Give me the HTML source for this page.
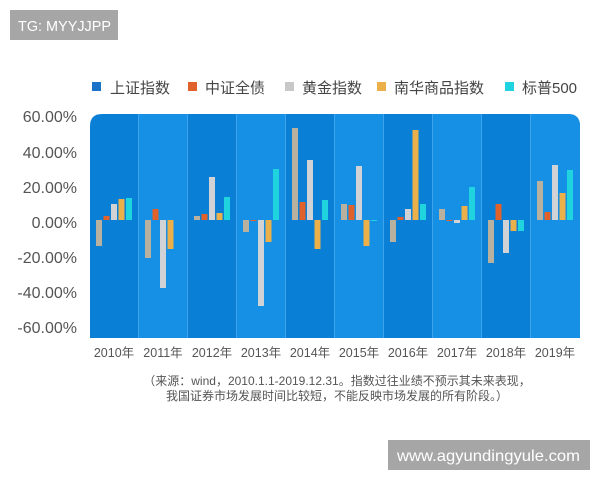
<!DOCTYPE html>
<html><head><meta charset="utf-8"><style>
body{margin:0;width:600px;height:480px;background:#fff;overflow:hidden;font-family:"Liberation Sans","Noto Sans CJK SC",sans-serif}
</style></head><body>
<svg width="600" height="480" xmlns="http://www.w3.org/2000/svg" font-family="Liberation Sans, Noto Sans CJK SC, sans-serif">
<rect x="10" y="10" width="108" height="30" fill="#a6a6a6"/>
<text x="18" y="31" font-size="15" fill="#fff" textLength="93" lengthAdjust="spacingAndGlyphs">TG: MYYJJPP</text>
<g font-size="15" fill="#444">
<rect x="92" y="82" width="9" height="9" fill="#1a73c9"/><text x="110" y="93">上证指数</text>
<rect x="188" y="82" width="9" height="9" fill="#e0622a"/><text x="205" y="93">中证全债</text>
<rect x="285" y="82" width="9" height="9" fill="#c8c8c8"/><text x="302" y="93">黄金指数</text>
<rect x="377" y="82" width="9" height="9" fill="#ebb04a"/><text x="394" y="93">南华商品指数</text>
<rect x="505" y="82" width="9" height="9" fill="#1fd4de"/><text x="522" y="93">标普500</text>
</g>
<g font-size="16" fill="#555" text-anchor="end">
<text x="77" y="122">60.00%</text><text x="77" y="158">40.00%</text><text x="77" y="193">20.00%</text>
<text x="77" y="228">0.00%</text><text x="77" y="263">-20.00%</text><text x="77" y="298">-40.00%</text><text x="77" y="333">-60.00%</text>
</g>
<defs><clipPath id="cp"><path d="M90,338 V126 Q90,114 102,114 H568 Q580,114 580,126 V338 Z"/></clipPath></defs>
<g clip-path="url(#cp)">
<rect x="90" y="114" width="490" height="224" fill="#0a7fd6"/>
<rect x="139" y="114" width="49" height="224" fill="#1590e4"/>
<rect x="237" y="114" width="49" height="224" fill="#1590e4"/>
<rect x="335" y="114" width="49" height="224" fill="#1590e4"/>
<rect x="433" y="114" width="49" height="224" fill="#1590e4"/>
<rect x="531" y="114" width="49" height="224" fill="#1590e4"/>
<g stroke="#3ea3ea" stroke-width="1">
<line x1="138.5" y1="114" x2="138.5" y2="338"/><line x1="187.5" y1="114" x2="187.5" y2="338"/><line x1="236.5" y1="114" x2="236.5" y2="338"/><line x1="285.5" y1="114" x2="285.5" y2="338"/><line x1="334.5" y1="114" x2="334.5" y2="338"/><line x1="383.5" y1="114" x2="383.5" y2="338"/><line x1="432.5" y1="114" x2="432.5" y2="338"/><line x1="481.5" y1="114" x2="481.5" y2="338"/><line x1="530.5" y1="114" x2="530.5" y2="338"/>
</g>
<g fill="#b9b1a0">
<rect x="96" y="220" width="6" height="26"/><rect x="145" y="220" width="6" height="38"/><rect x="194" y="216" width="6" height="4"/><rect x="243" y="220" width="6" height="12"/><rect x="292" y="128" width="6" height="92"/><rect x="341" y="204" width="6" height="16"/><rect x="390" y="220" width="6" height="22"/><rect x="439" y="209" width="6" height="11"/><rect x="488" y="220" width="6" height="43"/><rect x="537" y="181" width="6" height="39"/>
</g>
<g fill="#e0622a">
<rect x="103.5" y="216" width="6" height="4"/><rect x="152.5" y="209" width="6" height="11"/><rect x="201.5" y="214" width="6" height="6"/><rect x="250.5" y="220" width="6" height="1"/><rect x="299.5" y="202" width="6" height="18"/><rect x="348.5" y="205" width="6" height="15"/><rect x="397.5" y="217" width="6" height="3"/><rect x="446.5" y="220" width="6" height="1"/><rect x="495.5" y="204" width="6" height="16"/><rect x="544.5" y="212" width="6" height="8"/>
</g>
<g fill="#d0d2d6">
<rect x="111" y="204" width="6" height="16"/><rect x="160" y="220" width="6" height="68"/><rect x="209" y="177" width="6" height="43"/><rect x="258" y="220" width="6" height="86"/><rect x="307" y="160" width="6" height="60"/><rect x="356" y="166" width="6" height="54"/><rect x="405" y="209" width="6" height="11"/><rect x="454" y="220" width="6" height="3"/><rect x="503" y="220" width="6" height="33"/><rect x="552" y="165" width="6" height="55"/>
</g>
<g fill="#ebb04a">
<rect x="118.5" y="199" width="6" height="21"/><rect x="167.5" y="220" width="6" height="29"/><rect x="216.5" y="213" width="6" height="7"/><rect x="265.5" y="220" width="6" height="22"/><rect x="314.5" y="220" width="6" height="29"/><rect x="363.5" y="220" width="6" height="26"/><rect x="412.5" y="130" width="6" height="90"/><rect x="461.5" y="206" width="6" height="14"/><rect x="510.5" y="220" width="6" height="11"/><rect x="559.5" y="193" width="6" height="27"/>
</g>
<g fill="#1fd4de">
<rect x="126" y="198" width="6" height="22"/><rect x="224" y="197" width="6" height="23"/><rect x="273" y="169" width="6" height="51"/><rect x="322" y="200" width="6" height="20"/><rect x="371" y="220" width="6" height="1"/><rect x="420" y="204" width="6" height="16"/><rect x="469" y="187" width="6" height="33"/><rect x="518" y="220" width="6" height="11"/><rect x="567" y="170" width="6" height="50"/>
</g>
</g>
<g font-size="12.5" fill="#555" text-anchor="middle">
<text x="114" y="357">2010年</text><text x="163" y="357">2011年</text><text x="212" y="357">2012年</text><text x="261" y="357">2013年</text><text x="310" y="357">2014年</text><text x="359" y="357">2015年</text><text x="408" y="357">2016年</text><text x="457" y="357">2017年</text><text x="506" y="357">2018年</text><text x="555" y="357">2019年</text>
</g>
<g font-size="12" fill="#555" text-anchor="middle">
<text x="337" y="385">（来源：wind，2010.1.1-2019.12.31。指数过往业绩不预示其未来表现，</text>
<text x="337" y="400">我国证券市场发展时间比较短，不能反映市场发展的所有阶段。）</text>
</g>
<rect x="388" y="440" width="202" height="30" fill="#a6a6a6"/>
<text x="397" y="461" font-size="16" fill="#fff" textLength="183" lengthAdjust="spacingAndGlyphs">www.agyundingyule.com</text>
</svg>
</body></html>
